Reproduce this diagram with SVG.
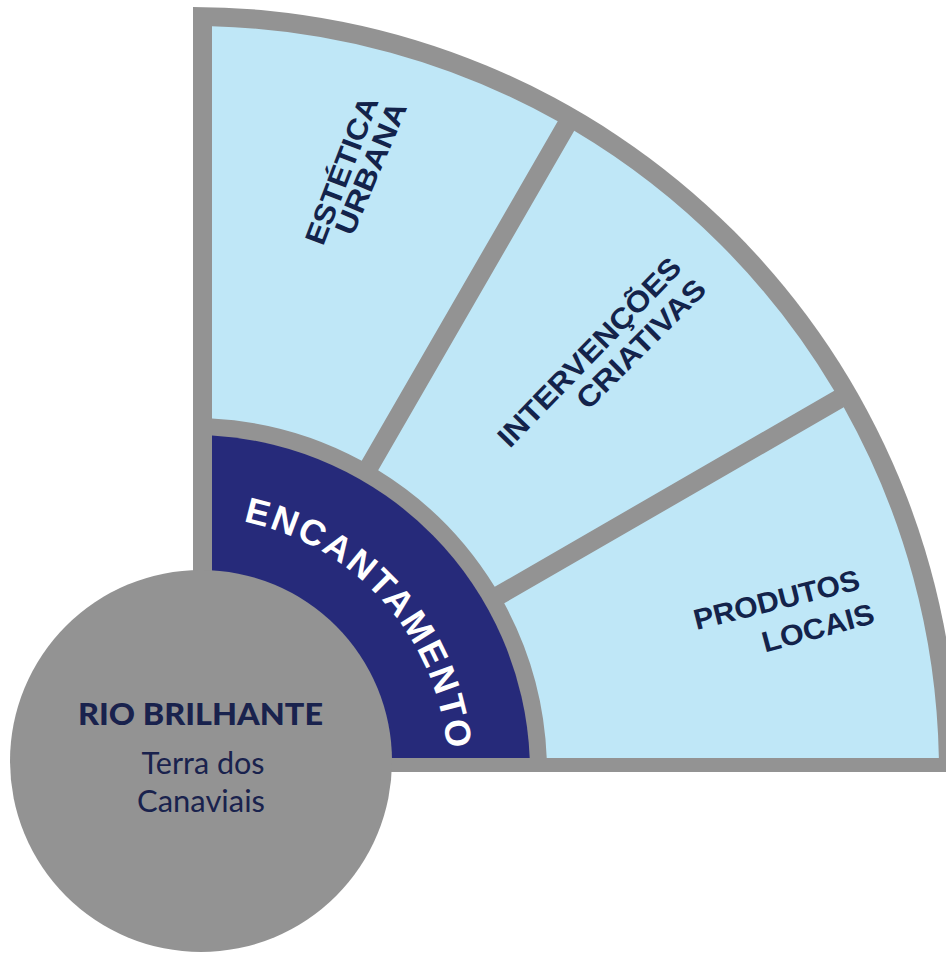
<svg xmlns="http://www.w3.org/2000/svg" width="946" height="953" viewBox="0 0 946 953">
<defs>
<style>
.frame{fill:#939393}
.sector{fill:#bfe7f7}
.band{fill:#262a7a}
.hub{fill:#939393}
.lbl{font-family:"Liberation Sans",Arial,sans-serif;font-weight:700;font-size:29px;fill:#13234b;text-anchor:middle}
.arc{font-family:"Liberation Sans",Arial,sans-serif;font-weight:700;font-size:36px;fill:#ffffff;letter-spacing:2.2px}
.hubt{font-family:Lato,"Open Sans",sans-serif;fill:#19224d;text-anchor:middle}
</style>
<path id="encPath" d="M238.4,520.7 A255,255 0 0 1 448,772"/>
</defs>
<rect width="946" height="953" fill="#ffffff"/>
<g id="frame">
<path class="frame" d="M193,772 L193,7 A765,765 0 0 1 958,772 Z"/>
</g>
<g id="connectors"></g>
<g id="sector-estetica">
<path class="sector" d="M361.71,460.78 L557.74,121.24 A746,746 0 0 0 212,26.24 L212,418.51 A354,354 0 0 1 361.71,460.78 Z"/>
<text class="lbl" transform="translate(351,174) rotate(-69)" textLength="156" lengthAdjust="spacingAndGlyphs">ESTÉTICA</text>
<text class="lbl" transform="translate(380,172) rotate(-67)" textLength="141" lengthAdjust="spacingAndGlyphs">URBANA</text>
</g>
<g id="sector-intervencoes">
<path class="sector" d="M494.71,586.84 L834.23,390.76 A746,746 0 0 0 574.24,130.77 L378.16,470.29 A354,354 0 0 1 494.71,586.84 Z"/>
<text class="lbl" transform="translate(596.5,359) rotate(-46)" textLength="250" lengthAdjust="spacingAndGlyphs">INTERVENÇÕES</text>
<text class="lbl" transform="translate(648,351) rotate(-45)" textLength="170" lengthAdjust="spacingAndGlyphs">CRIATIVAS</text>
</g>
<g id="sector-produtos">
<path class="sector" d="M546.72,758 L938.87,758 A746,746 0 0 0 843.74,407.22 L504.22,603.28 A354,354 0 0 1 546.72,758 Z"/>
<text class="lbl" transform="translate(779,609.5) rotate(-14)" textLength="170" lengthAdjust="spacingAndGlyphs">PRODUTOS</text>
<text class="lbl" transform="translate(820.5,637.5) rotate(-15)" textLength="115" lengthAdjust="spacingAndGlyphs">LOCAIS</text>
</g>
<g id="encantamento">
<path class="band" d="M212,758 L212,435.54 A337,337 0 0 1 529.71,758 Z"/>
<text class="arc"><textPath href="#encPath" startOffset="5">ENCANTAMENTO</textPath></text>
</g>
<g id="rio-brilhante">
<circle class="hub" cx="201" cy="761" r="191"/>
<text class="hubt" x="200.5" y="725" font-size="30" font-weight="900" textLength="245" lengthAdjust="spacingAndGlyphs">RIO BRILHANTE</text>
<text class="hubt" x="203" y="774" font-size="30" textLength="123" lengthAdjust="spacingAndGlyphs">Terra dos</text>
<text class="hubt" x="201" y="812" font-size="31" textLength="128" lengthAdjust="spacingAndGlyphs">Canaviais</text>
</g>
</svg>
